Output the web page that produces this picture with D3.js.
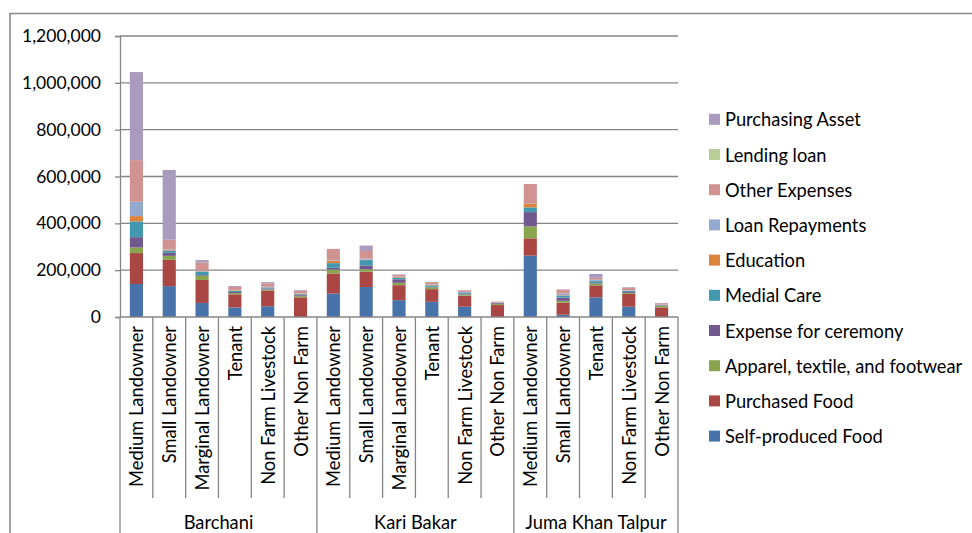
<!DOCTYPE html>
<html>
<head>
<meta charset="utf-8">
<script src="https://cdn.jsdelivr.net/npm/d3@7"></script>
<style>
  html, body { margin: 0; padding: 0; background: #fff; }
  svg { display: block; font-family: Lato, "Open Sans", sans-serif; }
</style>
</head>
<body>
<svg id="chart" width="972" height="533"></svg>
<script>
// Household expenditure by village and household type (stacked, bottom to top)
const villages = ["Barchani", "Kari Bakar", "Juma Khan Talpur"];
const householdTypes = [
  ["Medium Landowner", "Small Landowner", "Marginal Landowner", "Tenant", "Non Farm Livestock", "Other Non Farm"],
  ["Medium Landowner", "Small Landowner", "Marginal Landowner", "Tenant", "Non Farm Livestock", "Other Non Farm"],
  ["Medium Landowner", "Small Landowner", "Tenant", "Non Farm Livestock", "Other Non Farm"]
];

const seriesNames = [
  "Self-produced Food", "Purchased Food", "Apparel, textile, and footwear",
  "Expense for ceremony", "Medial Care", "Education", "Loan Repayments",
  "Other Expenses", "Lending loan", "Purchasing Asset"
];
const seriesColors = [
  "#4773AA", "#AA4643", "#89A54E", "#71588F", "#4198AF",
  "#DB843D", "#93A9CF", "#D19392", "#B9CD96", "#A99BBD"
];

// One value per household type, in the order Barchani (6), Kari Bakar (6), Juma Khan Talpur (5)
const selfProducedFood = [141000, 132000, 60000, 41000, 46000, 0,   100000, 128000, 72000, 65000, 44000, 0,   262000, 10000, 84000, 44000, 0];
const purchasedFood    = [132000, 112000, 98000, 56000, 67000, 84000,   86000, 65000, 64000, 54000, 47000, 51000,   74000, 51000, 51000, 55000, 41000];
const apparel          = [24000, 17000, 18000, 5000, 5000, 5000,   16000, 11000, 10000, 8000, 5000, 4000,   51000, 8000, 8000, 4000, 6000];
const ceremony         = [44000, 13000, 3000, 5000, 4000, 4000,   8000, 16000, 15000, 2000, 2000, 4000,   61000, 14000, 2000, 4000, 2000];
const medicalCare      = [67000, 10000, 14000, 4000, 4000, 4000,   20000, 23000, 7000, 6000, 4000, 1000,   20000, 8000, 8000, 4000, 2000];
const education        = [23000, 3000, 2000, 3000, 1000, 2000,   10000, 2000, 2000, 2000, 1000, 1000,   16000, 2000, 1000, 1000, 1000];
const loanRepayments   = [61000, 2000, 4000, 2000, 2000, 2000,   2000, 4000, 2000, 2000, 4000, 1000,   0, 7000, 5000, 2000, 1000];
const otherExpenses    = [178000, 41000, 33000, 12000, 15000, 11000,   49000, 33000, 9000, 10000, 7000, 4000,   84000, 17000, 8000, 12000, 6000];
const lendingLoan      = [0, 0, 0, 0, 0, 0,   0, 0, 0, 0, 0, 0,   0, 0, 0, 0, 0];
const purchasingAsset  = [376000, 298000, 11000, 4000, 5000, 3000,   0, 23000, 1000, 1000, 1000, 0,   0, 1000, 17000, 2000, 1000];

const seriesValues = [
  selfProducedFood, purchasedFood, apparel, ceremony, medicalCare,
  education, loanRepayments, otherExpenses, lendingLoan, purchasingAsset
];

const yTicks = [0, 200000, 400000, 600000, 800000, 1000000, 1200000];

// ---- flatten categories ----
const rows = [];
householdTypes.forEach((types, g) => types.forEach(t => rows.push({ village: villages[g], group: g, type: t })));
rows.forEach((r, i) => {
  r.id = i;
  seriesNames.forEach((s, k) => { r[s] = seriesValues[k][i]; });
});

const svg = d3.select("#chart");
const plot = { left: 120, right: 678, top: 36, bottom: 317 };
const lineColor = "#868686";
const tickFontSize = 17.5;
const labelFontSize = 18.3;

// chart frame
svg.append("path")
  .attr("d", "M10,533 L10,13.5 L972,13.5")
  .attr("fill", "none").attr("stroke", "#8a8a8a").attr("stroke-width", 1.6);

const y = d3.scaleLinear().domain([0, 1200000]).range([plot.bottom, plot.top]);
const slot = d3.scaleBand().domain(rows.map(r => r.id)).range([plot.left, plot.right]).padding(0);
const x = d3.scaleBand().domain(rows.map(r => r.id)).range([plot.left, plot.right])
  .paddingInner(0.6).paddingOuter(0.3);

// gridlines
svg.append("g").selectAll("line").data(yTicks.filter(d => d > 0)).join("line")
  .attr("x1", plot.left).attr("x2", plot.right)
  .attr("y1", d => y(d)).attr("y2", d => y(d))
  .attr("stroke", lineColor).attr("stroke-width", 1.3);

// stacked bars
const stack = d3.stack().keys(seriesNames);
const layers = stack(rows);
svg.append("g").selectAll("g").data(layers).join("g")
  .attr("fill", (d, i) => seriesColors[i])
  .selectAll("rect").data(d => d).join("rect")
  .attr("x", d => x(d.data.id))
  .attr("width", x.bandwidth())
  .attr("y", d => y(d[1]))
  .attr("height", d => Math.max(0, y(d[0]) - y(d[1])));

// value axis
const yAxis = svg.append("g")
  .attr("transform", `translate(${plot.left},0)`)
  .call(d3.axisLeft(y).tickValues(yTicks).tickSize(5).tickPadding(14).tickFormat(d3.format(",")));
yAxis.select(".domain").attr("stroke", lineColor).attr("stroke-width", 1.3);
yAxis.selectAll(".tick line").attr("stroke", lineColor).attr("stroke-width", 1.3);
yAxis.selectAll(".tick text")
  .attr("font-family", "Lato, sans-serif").attr("font-size", tickFontSize).attr("fill", "#000");

// category axis baseline
svg.append("line")
  .attr("x1", plot.left).attr("x2", plot.right)
  .attr("y1", plot.bottom).attr("y2", plot.bottom)
  .attr("stroke", lineColor).attr("stroke-width", 1.3);

// separators between household types and villages
const typeRowBottom = 498;
const boundaries = rows.map(r => ({ pos: slot(r.id), groupStart: r.id === 0 || rows[r.id - 1].group !== r.group }));
boundaries.push({ pos: plot.right, groupStart: true });
svg.append("g").selectAll("line").data(boundaries).join("line")
  .attr("x1", d => d.pos).attr("x2", d => d.pos)
  .attr("y1", plot.bottom).attr("y2", d => d.groupStart ? 533 : typeRowBottom)
  .attr("stroke", lineColor).attr("stroke-width", 1.3);

// household type labels (rotated)
svg.append("g").selectAll("text").data(rows).join("text")
  .attr("transform", d => `translate(${slot(d.id) + slot.bandwidth() / 2},${plot.bottom + 9}) rotate(-90)`)
  .attr("text-anchor", "end")
  .attr("dominant-baseline", "central")
  .attr("font-size", labelFontSize).attr("fill", "#000")
  .text(d => d.type);

// village labels
svg.append("g").selectAll("text").data(villages).join("text")
  .attr("x", (v, g) => {
    const ids = rows.filter(r => r.group === g).map(r => r.id);
    return (slot(ids[0]) + slot(ids[ids.length - 1]) + slot.bandwidth()) / 2;
  })
  .attr("y", 522)
  .attr("text-anchor", "middle").attr("dominant-baseline", "central")
  .attr("font-size", labelFontSize).attr("fill", "#000")
  .text(d => d);

// legend (top entry is the top of the stack)
const legendOrder = seriesNames.map((s, i) => ({ name: s, color: seriesColors[i] })).reverse();
const legend = svg.append("g").selectAll("g").data(legendOrder).join("g")
  .attr("transform", (d, i) => `translate(709,${119.3 + i * 35.2})`);
legend.append("rect")
  .attr("x", 0).attr("y", -5.5).attr("width", 11).attr("height", 11)
  .attr("fill", d => d.color);
legend.append("text")
  .attr("x", 16).attr("y", 0)
  .attr("dominant-baseline", "central")
  .attr("font-size", labelFontSize).attr("fill", "#000")
  .text(d => d.name);
</script>
</body>
</html>
